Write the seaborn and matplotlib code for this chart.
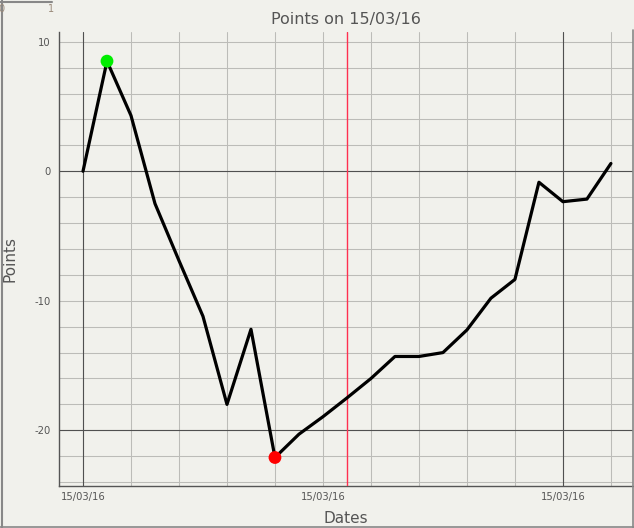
import numpy as np
import pandas as pd
import matplotlib
matplotlib.use("Agg")
import matplotlib.pyplot as plt
from matplotlib.ticker import MultipleLocator, FuncFormatter
from matplotlib.lines import Line2D
import seaborn as sns

# datos (horas desde 15/03/16 00:00)
horas = list(range(23))
puntos = [0.0, 8.5, 4.3, -2.5, -6.9, -11.2, -18.0, -12.2, -22.1, -20.3, -18.95, -17.5,
          -16.0, -14.3, -14.3, -14.0, -12.25, -9.8, -8.35, -0.85, -2.35, -2.15, 0.6]
hora_actual = 11
fecha_base = pd.Timestamp("2016-03-15")
titulo = "Points on 15/03/16"

df = pd.DataFrame({"Dates": horas, "Points": puntos})
extremos = pd.concat([df.loc[[df["Points"].idxmax()]], df.loc[[df["Points"].idxmin()]]])
extremos["tipo"] = ["max", "min"]

fondo = "#f1f1ec"
gris_txt = "#555555"
sns.set_style("white", {"axes.facecolor": fondo, "figure.facecolor": fondo})
plt.rcParams["font.family"] = ["DejaVu Sans"]

fig = plt.figure(figsize=(6.34, 5.28), dpi=100)
ax = fig.add_axes([59 / 634, 1 - 486 / 528, 574 / 634, 454 / 528])

sns.lineplot(data=df, x="Dates", y="Points", color="black", linewidth=2.3, ax=ax, zorder=4)
sns.scatterplot(data=extremos, x="Dates", y="Points", hue="tipo",
                palette={"max": "#00ee00", "min": "#ff0000"}, s=85, edgecolor="none",
                legend=False, ax=ax, zorder=5)

ax.set_xlim(-1, 22.92)
ax.set_ylim(-24.3, 10.75)

ax.xaxis.set_major_locator(MultipleLocator(10))
ax.yaxis.set_major_locator(MultipleLocator(10))
ax.xaxis.set_minor_locator(MultipleLocator(2))
ax.yaxis.set_minor_locator(MultipleLocator(2))
ax.xaxis.set_major_formatter(FuncFormatter(
    lambda v, p: (fecha_base + pd.Timedelta(hours=v)).strftime("%d/%m/%y")))
ax.yaxis.set_major_formatter(FuncFormatter(lambda v, p: f"{v:g}"))

ax.grid(True, which="both", color="#bcbcb8", linewidth=0.75, zorder=0)
ax.set_axisbelow(True)
for v in np.arange(0, 23, 20):
    ax.axvline(v, color="#505050", linewidth=0.8, zorder=1)
for v in np.arange(0, -25, -20):
    ax.axhline(v, color="#505050", linewidth=0.8, zorder=1)
ax.axvline(hora_actual, color="#ff3050", linewidth=1.0, zorder=3)

ax.tick_params(which="both", length=0, labelsize=7.2, labelcolor=gris_txt)
ax.tick_params(axis="y", pad=6)
ax.tick_params(axis="x", pad=4)
for lado in ["top", "right"]:
    ax.spines[lado].set_visible(False)
for lado in ["left", "bottom"]:
    ax.spines[lado].set_color("#555555")
    ax.spines[lado].set_linewidth(1.0)

ax.set_title(titulo, fontsize=11.5, color=gris_txt, pad=6)
ax.set_xlabel("Dates", fontsize=11, color=gris_txt, labelpad=7)
ax.set_ylabel("Points", fontsize=11, color=gris_txt, labelpad=12)

# marco y restos de la ventana
borde = "#888888"
fig.add_artist(Line2D([1.5 / 634, 1.5 / 634], [0, 1], color=borde, linewidth=1.5))
fig.add_artist(Line2D([632.5 / 634, 632.5 / 634], [0, 1 - 30 / 528], color=borde, linewidth=1.2))
fig.add_artist(Line2D([0, 1], [1.5 / 528, 1.5 / 528], color=borde, linewidth=1.2))
fig.add_artist(Line2D([0, 52 / 634], [1 - 1.5 / 528, 1 - 1.5 / 528], color=borde, linewidth=1.5))
fig.text(51 / 634, 1 - 9 / 528, "1", fontsize=7, color="#9a8a7a", ha="center", va="center")
fig.text(1 / 634, 1 - 9 / 528, "0", fontsize=7, color="#9a8a7a", ha="center", va="center")

fig.savefig("out.png", dpi=100, facecolor=fondo)
